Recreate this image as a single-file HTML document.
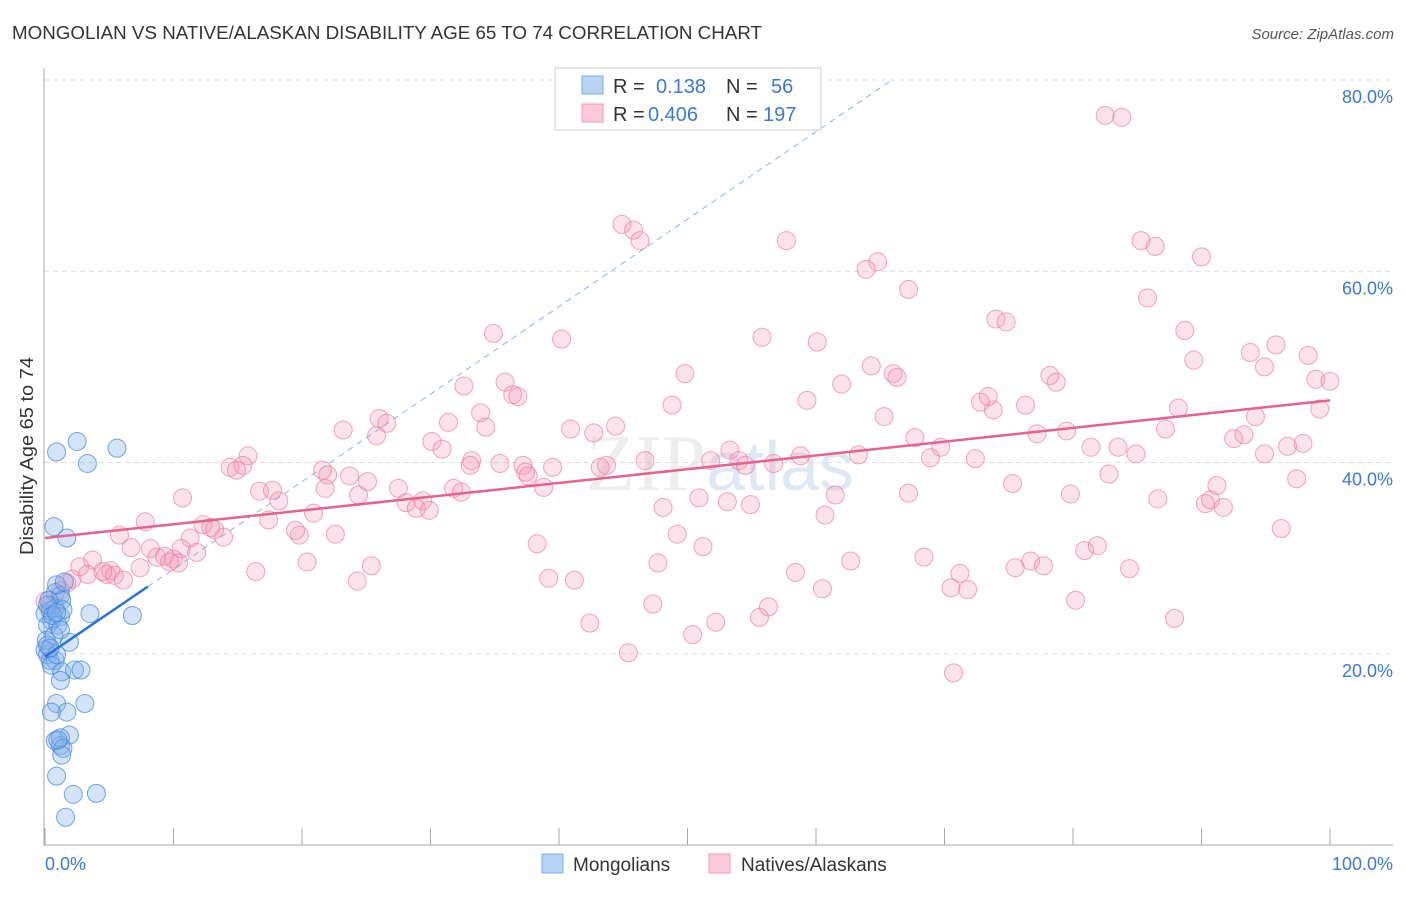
<!DOCTYPE html>
<html><head><meta charset="utf-8"><style>
body{margin:0;background:#fff;width:1406px;height:892px;overflow:hidden;font-family:"Liberation Sans",sans-serif;}
</style></head><body>
<svg id="chart" width="1406" height="892" xmlns="http://www.w3.org/2000/svg">
<text x="12" y="39" font-size="18" fill="#333" textLength="750" lengthAdjust="spacingAndGlyphs">MONGOLIAN VS NATIVE/ALASKAN DISABILITY AGE 65 TO 74 CORRELATION CHART</text>
<text x="1394" y="39" font-size="15" fill="#555" font-style="italic" text-anchor="end">Source: ZipAtlas.com</text>
<text x="720" y="490" font-size="80" fill="#d9d9d9" opacity="0.45" text-anchor="middle" font-family="Liberation Serif,serif">ZIP<tspan font-family="Liberation Sans,sans-serif" fill="#b8cde8" font-size="70">atlas</tspan></text>
<g id="grid"></g><g id="axes"></g><g id="pts"></g><g id="lines"></g>
<text transform="translate(33,456) rotate(-90)" font-size="18" fill="#333" text-anchor="middle" textLength="198" lengthAdjust="spacingAndGlyphs">Disability Age 65 to 74</text>
<g>
<rect x="555" y="68" width="266" height="62" fill="#fff" stroke="#ccc"/>
<rect x="582" y="76" width="21" height="18" fill="#b9d3f5" stroke="#7aaae6"/>
<rect x="582" y="104" width="21" height="18" fill="#fcc9d8" stroke="#ef9ab5"/>
<text x="613" y="93" font-size="20" fill="#333">R = </text><text x="656" y="93" font-size="20" fill="#3b78d8">0.138</text>
<text x="726" y="93" font-size="20" fill="#333">N = </text><text x="771" y="93" font-size="20" fill="#3b78d8">56</text>
<text x="613" y="121" font-size="20" fill="#333">R = </text><text x="648" y="121" font-size="20" fill="#3b78d8">0.406</text>
<text x="726" y="121" font-size="20" fill="#333">N = </text><text x="763" y="121" font-size="20" fill="#3b78d8">197</text>
</g>
<g>
<rect x="542" y="854" width="21" height="19" fill="#b9d3f5" stroke="#7aaae6"/>
<text x="573" y="871" font-size="19" fill="#333">Mongolians</text>
<rect x="709" y="854" width="21" height="19" fill="#fcc9d8" stroke="#ef9ab5"/>
<text x="741" y="871" font-size="19" fill="#333">Natives/Alaskans</text>
</g>
</svg>
<script>
const yTicks=[20,40,60,80];
const xTickLabels=["0.0%","100.0%"];
const blueX=[0.9,2.5,3.3,5.6,0.7,1.7,0.8,3.5,6.8,0,0.4,0.5,0.2,1.2,0.8,1.2,1.3,0.9,1.5,1.4,1.0,1.9,0,0.2,0.4,0.8,0.5,1.3,2.3,2.8,1.2,0.9,1.7,3.1,0.5,0.8,1.2,1.9,1.2,1.4,1.3,0.9,2.2,4.0,1.6,0.1,0.2,0.7,0.3,0.2,0.6,1.2,0.9,0.4,1.0,0.9];
const blueY=[41.1,42.2,39.9,41.5,33.3,32.1,24.8,24.2,24.0,24.2,24.5,23.5,23.0,23.9,26.4,26.1,25.6,27.2,27.5,24.6,23.0,21.2,20.4,19.9,19.3,19.3,18.8,18.1,18.3,18.3,17.2,14.8,13.9,14.8,13.9,10.9,10.4,11.5,11.2,10.1,9.4,7.2,5.3,5.4,2.9,21.4,20.9,21.9,25.6,25.1,24.0,22.5,19.9,20.6,11.0,24.3];
const pinkX=[82.5,83.8,44.9,45.8,46.3,57.7,85.3,86.4,90.0,64.8,63.9,67.2,85.8,74.0,74.8,34.9,40.2,55.8,60.1,88.7,89.4,93.8,95.8,98.3,94.9,64.3,66.0,66.3,49.8,35.8,36.4,36.8,32.6,62.0,78.2,78.7,98.9,100,59.3,72.8,73.8,73.4,76.3,88.2,99.2,94.2,48.8,33.9,31.4,26.0,26.6,23.2,25.8,34.3,30.1,30.9,40.9,42.7,44.4,46.7,65.3,67.7,77.2,79.5,87.2,92.5,93.3,96.7,97.9,81.4,83.5,84.9,69.7,68.9,72.4,51.8,53.3,54.0,54.5,56.7,58.8,63.3,43.2,43.7,39.5,37.2,35.4,33.2,33.1,15.8,15.4,14.4,14.9,21.6,22.0,21.8,23.7,24.4,25.1,27.5,29.4,28.1,28.9,29.9,31.8,32.4,38.8,37.6,37.4,82.8,75.3,79.8,86.6,90.3,91.7,90.7,91.2,94.9,97.4,67.2,61.5,50.9,53.1,54.9,48.1,60.7,10.7,16.7,17.7,18.2,17.4,20.9,19.8,19.5,22.6,12.3,12.9,13.2,11.3,13.9,10.6,11.8,5.8,7.8,6.7,8.2,8.7,9.3,9.7,10.0,3.7,2.7,2.1,3.3,1.7,1.2,5.1,4.8,5.4,4.5,6.1,7.4,10.4,16.4,20.4,24.3,25.4,49.2,51.2,38.3,47.7,76.7,77.7,81.9,80.9,84.4,96.2,75.5,68.4,62.7,58.4,71.2,39.2,41.2,60.5,70.5,71.8,80.2,56.3,55.6,47.3,52.2,42.4,50.4,87.9,45.4,70.7,0,0.4];
const pinkY=[76.3,76.1,64.9,64.3,63.2,63.2,63.2,62.6,61.5,61.0,60.2,58.1,57.2,55.0,54.7,53.5,52.9,53.1,52.6,53.8,50.7,51.5,52.3,51.2,50.0,50.1,49.3,48.9,49.3,48.4,47.1,46.9,48.0,48.2,49.1,48.4,48.7,48.5,46.5,46.3,45.5,46.9,46.0,45.7,45.6,44.8,46.0,45.2,44.2,44.6,44.1,43.4,42.8,43.7,42.2,41.4,43.5,43.1,43.8,40.2,44.8,42.6,43.0,43.3,43.5,42.5,42.9,41.7,42.0,41.6,41.6,40.9,41.6,40.5,40.4,40.2,41.3,40.2,39.7,39.9,40.7,40.8,39.5,39.7,39.5,39.7,39.9,40.2,39.7,40.7,39.7,39.5,39.2,39.2,38.7,37.3,38.6,36.6,38.0,37.3,36.0,35.8,35.2,35.0,37.3,36.9,37.4,38.6,39.0,38.8,37.8,36.7,36.2,35.7,35.3,36.1,37.6,40.9,38.3,36.8,36.6,36.3,35.9,35.6,35.3,34.5,36.3,37.0,37.1,36.0,34.0,34.7,32.4,32.9,32.5,33.5,33.2,33.0,32.1,32.2,31.0,30.6,32.4,33.8,31.1,31.0,30.1,30.2,29.6,29.9,29.8,29.1,27.8,28.3,27.4,26.6,28.7,28.3,28.2,28.6,27.7,29.0,29.5,28.6,29.6,27.6,29.2,32.5,31.2,31.5,29.5,29.7,29.2,31.3,30.8,28.9,33.1,29.0,30.1,29.7,28.5,28.4,27.9,27.7,26.8,26.9,26.7,25.6,24.9,23.8,25.2,23.3,23.2,22.0,23.7,20.1,18.0,25.5,25.0];
const pinkTrend=[32.1,46.5]; // y at x=0 and x=100
const blueTrend=[19.7,0.915]; // intercept, slope
const blueSolidEnd=8;

const NS="http://www.w3.org/2000/svg";
const X0=45,X1=1330,YB=845,YT=80;
const sx=v=>X0+(X1-X0)*v/100;
const sy=v=>YB-(YB-YT)*v/80;
function mk(tag,attrs,parent){const e=document.createElementNS(NS,tag);for(const k in attrs)e.setAttribute(k,attrs[k]);parent.appendChild(e);return e;}
const grid=document.getElementById('grid'),axes=document.getElementById('axes'),pts=document.getElementById('pts'),lines=document.getElementById('lines');
yTicks.forEach(t=>{
  const l=mk('line',{x1:44,x2:1393,y1:sy(t),y2:sy(t),stroke:'#ddd','stroke-dasharray':'5,4'},grid);
  
  
  const tx=mk('text',{x:1393,y:sy(t)+23,'font-size':18,fill:'#3b78d8','text-anchor':'end'},grid);
  tx.textContent=t.toFixed(1)+'%';
  
  
});
const ya=mk('line',{x1:44,x2:44,y1:68,y2:846,stroke:'#aaa'},axes);


const xa=mk('line',{x1:44,x2:1393,y1:845,y2:845,stroke:'#aaa'},axes);


for(let i=0;i<=10;i++){
  const t=mk('line',{x1:sx(i*10),x2:sx(i*10),y1:828,y2:845,stroke:'#aaa'},axes);
  
  
}
const xl0=mk('text',{x:45,y:870,'font-size':18,fill:'#3b78d8'},axes);xl0.textContent=xTickLabels[0];


const xl1=mk('text',{x:1393,y:870,'font-size':18,fill:'#3b78d8','text-anchor':'end'},axes);xl1.textContent=xTickLabels[1];


pinkX.forEach((x,i)=>{
  const c=mk('circle',{cx:sx(x),cy:sy(pinkY[i]),r:9,fill:'rgba(244,150,180,0.28)',stroke:'rgba(232,120,160,0.65)','stroke-width':1},pts);
  
  
});
blueX.forEach((x,i)=>{
  const c=mk('circle',{cx:sx(x),cy:sy(blueY[i]),r:9,fill:'rgba(130,175,235,0.35)',stroke:'rgba(60,130,215,0.7)','stroke-width':1},pts);
  
  
});
const pt=mk('line',{x1:sx(0),y1:sy(pinkTrend[0]),x2:sx(100),y2:sy(pinkTrend[1]),stroke:'#e4628f','stroke-width':2.5},lines);


const xEnd=(80-blueTrend[0])/blueTrend[1];
const bd=mk('line',{x1:sx(blueSolidEnd),y1:sy(blueTrend[0]+blueTrend[1]*blueSolidEnd),x2:sx(xEnd),y2:sy(80),stroke:'#8fb3e0','stroke-width':1,'stroke-dasharray':'6,5'},lines);


const bs=mk('line',{x1:sx(0),y1:sy(blueTrend[0]),x2:sx(blueSolidEnd),y2:sy(blueTrend[0]+blueTrend[1]*blueSolidEnd),stroke:'#2a72d6','stroke-width':2.5},lines);


</script>
</body></html>
